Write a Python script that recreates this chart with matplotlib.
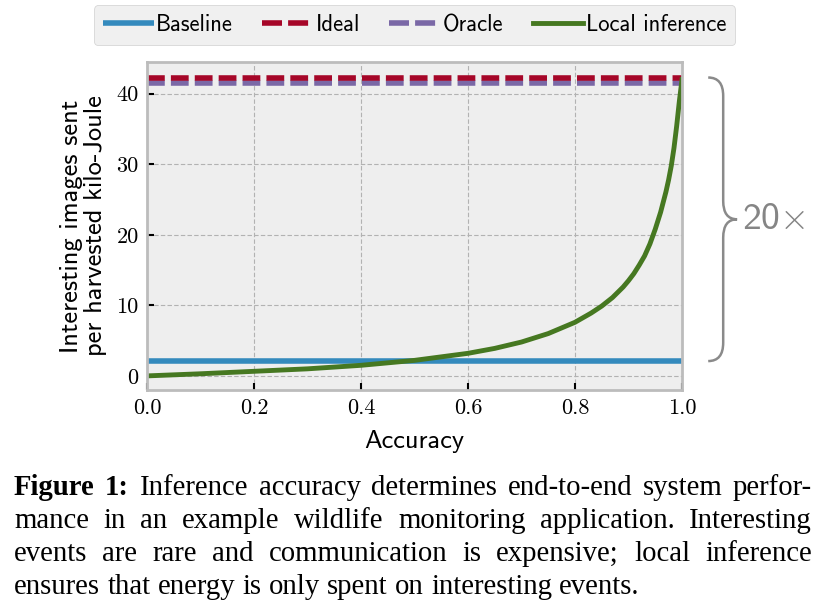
import numpy as np
import matplotlib
matplotlib.use("Agg")
import matplotlib.pyplot as plt
from matplotlib.path import Path
from matplotlib.patches import PathPatch
import matplotlib.transforms as mtransforms

plt.style.use("bmh")
plt.rcParams["mathtext.fontset"] = "cm"

# data
accuracy = [0.0, 0.1, 0.2, 0.3, 0.4, 0.5, 0.6, 0.65, 0.7, 0.75, 0.8, 0.83,
            0.85, 0.87, 0.89, 0.90, 0.91, 0.92, 0.93, 0.94, 0.95, 0.96, 0.97,
            0.975, 0.98, 0.985, 0.99, 0.995, 1.0]
local_inference = [0.0, 0.3, 0.65, 1.0, 1.5, 2.2, 3.2, 3.9, 4.8, 6.0, 7.6, 8.9,
                   9.9, 11.1, 12.6, 13.5, 14.5, 15.7, 17.0, 18.7, 20.8, 23.2, 26.1,
                   27.8, 29.8, 32.3, 35.4, 38.9, 42.0]
baseline = 2.1
ideal = 42.3
oracle = 41.5
x_ticks = [0.0, 0.2, 0.4, 0.6, 0.8, 1.0]
y_ticks = [0, 10, 20, 30, 40]
factor_label = "20$\\times$"

caption_lines = [
    "Inference accuracy determines end-to-end system perfor-",
    "mance in an example wildlife monitoring application.  Interesting",
    "events are rare and communication is expensive; local inference",
    "ensures that energy is only spent on interesting events.",
]

blue, red, purple, green = "#348ABD", "#A60628", "#7A68A6", "#467821"

fig = plt.figure(figsize=(8.24, 6.10), dpi=100)
fig.patch.set_facecolor("white")
ax = fig.add_axes([147 / 824, 1 - 390 / 610, 535 / 824, 328 / 610])
ax.set_facecolor("#eeeeee")

ax.axhline(baseline, color=blue, lw=4, label="Baseline", solid_capstyle="butt")
ax.axhline(oracle, color=purple, lw=4, dashes=(3.2, 1.1), label="Oracle")
ax.axhline(ideal, color=red, lw=4, dashes=(3.2, 1.1), label="Ideal")
ax.plot(accuracy, local_inference, color=green, lw=3.5, label="Local inference",
        solid_joinstyle="round")

ax.set_xlim(0, 1)
ax.set_ylim(-2, 44.5)
ax.set_xticks(x_ticks)
ax.set_yticks(y_ticks)
ax.set_xticklabels([f"{v:.1f}" for v in x_ticks], fontfamily="cmr10", fontsize=16)
ax.set_yticklabels([str(v) for v in y_ticks], fontfamily="cmr10", fontsize=16)
ax.tick_params(direction="in", length=5, width=1.5, color="black", pad=6)
ax.tick_params(top=False, right=False)
ax.grid(True, color="#b2b2b2", linestyle=(0, (4, 2)), linewidth=0.8)
for s in ax.spines.values():
    s.set_color("#bcbcbc")
    s.set_linewidth(2)

ax.set_xlabel("Accuracy", fontfamily="cmss10", fontsize=19, labelpad=9)
ax.set_ylabel("Interesting images sent\nper harvested kilo-Joule",
              fontfamily="cmss10", fontsize=19, labelpad=7, linespacing=1.05)

handles, labels = ax.get_legend_handles_labels()
order = [labels.index(n) for n in ["Baseline", "Ideal", "Oracle", "Local inference"]]
leg = ax.legend([handles[i] for i in order], [labels[i] for i in order],
                loc="lower center", bbox_to_anchor=(0.5, 1.051), ncol=4,
                prop={"family": "cmss10", "size": 16.3}, handlelength=2.25,
                handletextpad=0.1, columnspacing=1.3, borderpad=0.4,
                borderaxespad=0, frameon=True, fancybox=True)
leg.get_frame().set_facecolor("#f0f0f0")
leg.get_frame().set_edgecolor("#d0d0d0")
leg.get_frame().set_alpha(1)
for ln in leg.get_lines()[1:3]:
    ln.set_dashes((3.6, 1.1))

# curly brace from baseline up to ideal
tr = mtransforms.blended_transform_factory(ax.transAxes, ax.transData)
x0, x1, x2 = 1.049, 1.077, 1.103
ytop, ybot = ideal, baseline
ymid = (ytop + ybot) / 2
r = 2.6
verts = [(x0, ytop), (x1, ytop), (x1, ytop - r),
         (x1, ymid + r),
         (x1, ymid), (x2, ymid),
         (x1, ymid), (x1, ymid - r),
         (x1, ybot + r),
         (x1, ybot), (x0, ybot)]
codes = [Path.MOVETO, Path.CURVE3, Path.CURVE3, Path.LINETO,
         Path.CURVE3, Path.CURVE3, Path.CURVE3, Path.CURVE3,
         Path.LINETO, Path.CURVE3, Path.CURVE3]
ax.add_patch(PathPatch(Path(verts, codes), transform=tr, fill=False,
                       edgecolor="#8a8a8a", lw=1.8, clip_on=False))
ax.text(1.112, ymid, factor_label, transform=tr, fontsize=27, color="#858585",
        fontfamily="cmss10", va="center", ha="left")

# caption, justified line by line
fig.canvas.draw()
renderer = fig.canvas.get_renderer()
left_px, right_px = 14, 812
base_y = [495, 528, 561, 594]
cap_size = 20.7


def word_width(w, weight="normal"):
    t = fig.text(0, 0, w, fontsize=cap_size, family="Liberation Serif", weight=weight)
    bb = t.get_window_extent(renderer)
    t.remove()
    return bb.width


space = word_width("a b") - word_width("ab")
for li, line in enumerate(caption_lines):
    words = [(w, "normal") for w in line.split()]
    if li == 0:
        words = [("Figure", "bold"), ("1:", "bold")] + words
    widths = [word_width(w, wt) for w, wt in words]
    if li < len(caption_lines) - 1:
        gap = (right_px - left_px - sum(widths)) / (len(words) - 1)
    else:
        gap = space
    xpos = left_px
    for (w, wt), wd in zip(words, widths):
        fig.text(xpos / 824, 1 - base_y[li] / 610, w, fontsize=cap_size,
                 family="Liberation Serif", weight=wt, va="baseline", ha="left")
        xpos += wd + gap

fig.savefig("out.png", dpi=100, facecolor="white")
